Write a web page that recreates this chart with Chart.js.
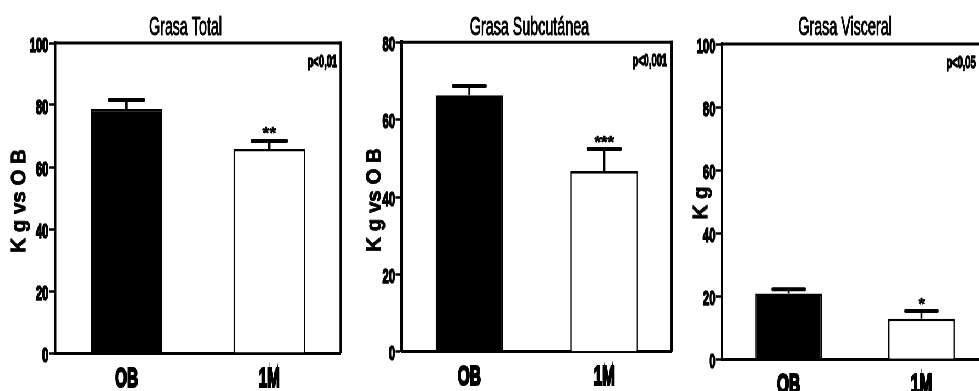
<!DOCTYPE html>
<html>
<head>
<meta charset="utf-8">
<script src="https://cdn.jsdelivr.net/npm/chart.js@4.4.1/dist/chart.umd.min.js"></script>
<style>
  html, body { margin: 0; padding: 0; background: #fff; overflow: hidden; width: 979px; height: 391px; }
  #wrap { position: absolute; left: 0; top: 0; width: 1780px; height: 391px; transform: scaleX(0.55); transform-origin: 0 0; }
  .panel { position: absolute; top: 0; height: 391px; }
</style>
</head>
<body>
<div id="wrap">
  <div class="panel" style="left:0px;width:627px"><canvas id="c1"></canvas></div>
  <div class="panel" style="left:627px;width:601px"><canvas id="c2"></canvas></div>
  <div class="panel" style="left:1228px;width:580px"><canvas id="c3"></canvas></div>
</div>
<script>
// ---- data ----
const categories = ['OB', '1M'];
const titles = ['Grasa Total', 'Grasa Subcutánea', 'Grasa Visceral'];
const yTitles = ['K g vs O B', 'K g vs O B', 'K g'];
const pTexts = ['p<0,01', 'p<0,001', 'p<0,05'];
const yMaxes = [100, 80, 100];
const yStep = 20;

const totalMeans = [78.7, 65.8];
const totalErrors = [2.9, 2.6];
const totalStars = ['', '**'];

const subcMeans = [66.3, 46.7];
const subcErrors = [2.4, 5.7];
const subcStars = ['', '***'];

const viscMeans = [20.9, 12.9];
const viscErrors = [1.3, 2.4];
const viscStars = ['', '*'];

// ---- styling ----
const S = 0.55; // horizontal squeeze of the whole figure
const FONT = "'Liberation Sans', Arial, sans-serif";

const decoPlugin = {
  id: 'deco',
  afterDraw(chart, args, o) {
    const { ctx, chartArea: a, scales: { y } } = chart;
    ctx.save();
    ctx.strokeStyle = '#000';
    ctx.fillStyle = '#000';
    ctx.lineJoin = 'round';
    // frame top and right
    ctx.lineWidth = 3;
    ctx.beginPath(); ctx.moveTo(a.left, a.top); ctx.lineTo(a.right + 2.2, a.top); ctx.stroke();
    ctx.lineWidth = 4.5;
    ctx.beginPath(); ctx.moveTo(a.right, a.top - 1.5); ctx.lineTo(a.right, a.bottom); ctx.stroke();
    // error bars + stars
    const meta = chart.getDatasetMeta(0);
    const vals = chart.data.datasets[0].data;
    meta.data.forEach((bar, i) => {
      const yTop = y.getPixelForValue(vals[i]);
      const yCap = y.getPixelForValue(vals[i] + o.errors[i]);
      const half = bar.width * 0.26 - 2;
      ctx.lineCap = 'butt';
      ctx.lineWidth = 3.6;
      ctx.beginPath(); ctx.moveTo(bar.x, yTop); ctx.lineTo(bar.x, yCap); ctx.stroke();
      ctx.lineCap = 'round';
      ctx.lineWidth = 4;
      ctx.beginPath(); ctx.moveTo(bar.x - half, yCap); ctx.lineTo(bar.x + half, yCap); ctx.stroke();
      if (o.stars[i]) {
        ctx.save();
        ctx.translate(bar.x, yCap - 1.5);
        ctx.scale(1 / S, 1);
        ctx.font = "bold 17px " + FONT;
        ctx.textAlign = 'center';
        ctx.textBaseline = 'alphabetic';
        ctx.lineWidth = 0.6;
        ctx.fillText(o.stars[i], 0, 0);
        ctx.strokeText(o.stars[i], 0, 0);
        ctx.restore();
      }
    });
    // title
    ctx.font = "26px " + FONT;
    ctx.textAlign = 'center';
    ctx.textBaseline = 'alphabetic';
    ctx.lineWidth = 1.0;
    const tx = (a.left + a.right) / 2 + o.titleShift;
    ctx.fillText(o.title, tx, 35);
    ctx.strokeText(o.title, tx, 35);
    // p value
    ctx.font = "bold 17px " + FONT;
    ctx.textAlign = 'right';
    ctx.lineWidth = 1.4;
    ctx.fillText(o.p, a.right - o.pShift, a.top + 24);
    ctx.strokeText(o.p, a.right - o.pShift, a.top + 24);
    // y title (undo the horizontal squeeze)
    ctx.translate(o.yTitleX, o.yTitleY);
    ctx.scale(1 / S, 1);
    ctx.rotate(-Math.PI / 2);
    ctx.font = "bold 20.5px " + FONT;
    ctx.textAlign = 'center';
    ctx.textBaseline = 'middle';
    ctx.lineWidth = 0.8;
    ctx.fillText(o.yTitle, 0, 0);
    ctx.strokeText(o.yTitle, 0, 0);
    ctx.restore();
  }
};

function makeChart(id, idx, means, errors, stars, geo) {
  return new Chart(document.getElementById(id), {
    type: 'bar',
    data: {
      labels: categories,
      datasets: [{
        data: means,
        backgroundColor: ['#000000', '#ffffff'],
        borderColor: '#000000',
        borderWidth: 2.6,
        borderSkipped: 'bottom',
        barPercentage: 0.5,
        categoryPercentage: 1.0
      }]
    },
    plugins: [decoPlugin],
    options: {
      responsive: true,
      maintainAspectRatio: false,
      animation: false,
      devicePixelRatio: 1,
      layout: { padding: { left: 0, right: geo.padRight, top: geo.top, bottom: 0 } },
      plugins: {
        legend: { display: false },
        tooltip: { enabled: false },
        title: { display: false },
        deco: {
          errors: errors, stars: stars, title: titles[idx], p: pTexts[idx], yTitle: yTitles[idx],
          titleShift: geo.titleShift, pShift: geo.pShift, yTitleX: geo.yTitleX, yTitleY: geo.yTitleY
        }
      },
      scales: {
        x: {
          offset: true,
          grid: { display: false },
          border: { display: true, color: '#000', width: 3 },
          ticks: { color: '#000', padding: geo.xPad, textStrokeColor: '#000', textStrokeWidth: 2.2,
                   font: { family: FONT, size: 28, weight: 'bold' } },
          afterFit: s => { s.height = geo.xH; }
        },
        y: {
          min: 0, max: yMaxes[idx],
          ticks: { stepSize: yStep, color: '#000', padding: 1, labelOffset: 3,
                   textStrokeColor: '#000', textStrokeWidth: 1.6,
                   font: { family: FONT, size: 20.5, weight: 'bold' } },
          grid: { display: true, drawOnChartArea: false, drawTicks: true, tickLength: 11, tickWidth: 2.5, tickColor: '#000' },
          border: { display: true, color: '#000', width: 4.5 },
          afterFit: s => { s.width = geo.yW; }
        }
      }
    }
  });
}

makeChart('c1', 0, totalMeans, totalErrors, totalStars,
  { top: 43, padRight: 7.5, yW: 100, xH: 38, xPad: 1, titleShift: -22.5, pShift: 6.7, yTitleX: 35.5, yTitleY: 201 });
makeChart('c2', 1, subcMeans, subcErrors, subcStars,
  { top: 42.3, padRight: 6.7, yW: 103.4, xH: 39.3, xPad: 1, titleShift: -13.2, pShift: 8.5, yTitleX: 54.8, yTitleY: 200 });
makeChart('c3', 2, viscMeans, viscErrors, viscStars,
  { top: 44, padRight: 11.6, yW: 84.7, xH: 31.7, xPad: 1, titleShift: -18.2, pShift: 22.5, yTitleX: 47.5, yTitleY: 203 });
</script>
</body>
</html>
